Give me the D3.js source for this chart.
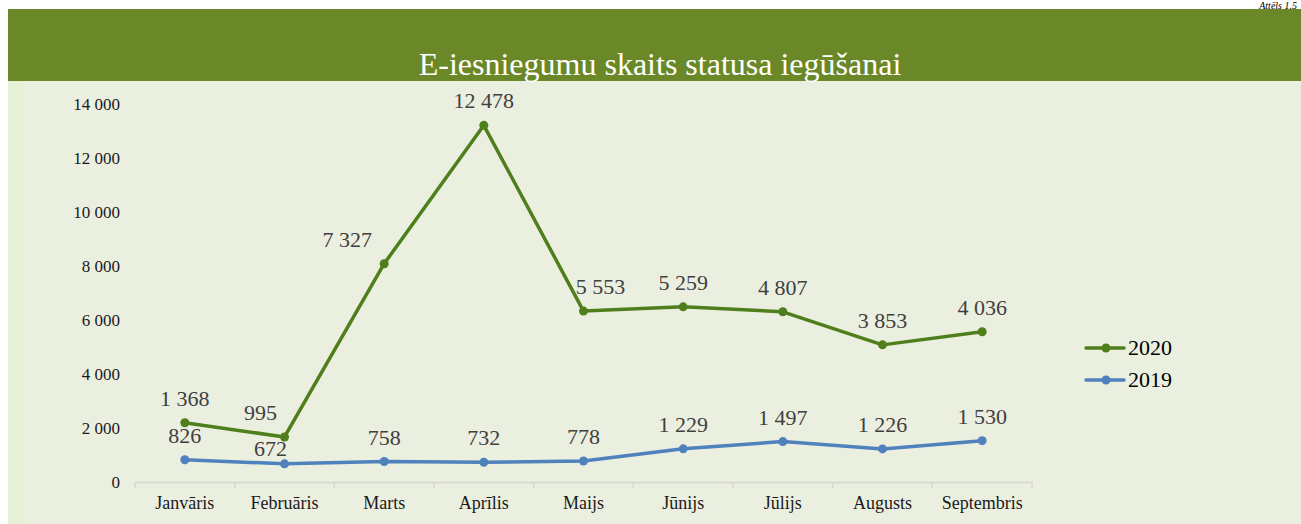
<!DOCTYPE html>
<html>
<head>
<meta charset="utf-8">
<script src="https://cdn.jsdelivr.net/npm/d3@7"></script>
<style>
  body { margin: 0; background: #fff; }
  text { font-family: "Liberation Serif", "Times New Roman", serif; }
</style>
</head>
<body>
<div id="chart"></div>
<script>
// data
var months = ["Janvāris", "Februāris", "Marts", "Aprīlis", "Maijs", "Jūnijs", "Jūlijs", "Augusts", "Septembris"];
var values2019 = [826, 672, 758, 732, 778, 1229, 1497, 1226, 1530];
var values2020 = [1368, 995, 7327, 12478, 5553, 5259, 4807, 3853, 4036];
var yTicks = [0, 2000, 4000, 6000, 8000, 10000, 12000, 14000];

// label nudges (Excel placed a few labels off-centre)
var shift2020 = { "Februāris": [-24, 0], "Marts": [-37, 0], "Maijs": [17, 0] };
var shift2019 = { "Februāris": [-14, 9] };

var width = 1301;
var height = 524;

var svg = d3.select("#chart")
  .append("svg")
  .attr("width", width)
  .attr("height", height);

// page furniture
svg.append("text")
  .attr("x", 1297)
  .attr("y", 9)
  .attr("text-anchor", "end")
  .style("font-style", "italic")
  .style("font-size", "10px")
  .text("Attēls 1.5");

svg.append("rect")
  .attr("x", 8).attr("y", 81)
  .attr("width", width - 8).attr("height", height - 81)
  .attr("fill", "#ebefdf");

svg.append("rect")
  .attr("x", 8).attr("y", 81)
  .attr("width", 15).attr("height", height - 81)
  .attr("fill", "#e5f0d7");

svg.append("rect")
  .attr("x", 8).attr("y", 9)
  .attr("width", width - 8).attr("height", 72)
  .attr("fill", "#6a8827");

svg.append("text")
  .attr("x", 660)
  .attr("y", 75)
  .attr("text-anchor", "middle")
  .attr("fill", "#ffffff")
  .style("font-size", "32px")
  .text("E-iesniegumu skaits statusa iegūšanai");

// scales
var xScale = d3.scaleBand()
  .domain(months)
  .range([135, 1032]);

var yScale = d3.scaleLinear()
  .domain([0, 14000])
  .range([482, 104]);

// stacked line: 2020 sits on top of 2019
var stacked2020 = values2020.map((v, i) => v + values2019[i]);

var fmt = d => d3.format(",")(d).replace(/,/g, " ");

var yAxis = d3.axisLeft(yScale)
  .tickValues(yTicks)
  .tickSize(0)
  .tickPadding(0)
  .tickFormat(fmt);

var yAxisG = svg.append("g")
  .attr("transform", "translate(120,0)")
  .call(yAxis);
yAxisG.select(".domain").remove();
yAxisG.selectAll("text")
  .style("font-family", "'Liberation Serif', serif")
  .style("font-size", "17px")
  .attr("fill", "#1a1a1a");

var xAxis = d3.axisBottom(xScale).tickSize(0).tickPadding(14);
var xAxisG = svg.append("g")
  .attr("transform", "translate(0,482)")
  .call(xAxis);
xAxisG.select(".domain").attr("stroke", "#d4d6d0").attr("stroke-width", 1.3);
xAxisG.selectAll("text")
  .style("font-family", "'Liberation Serif', serif")
  .style("font-size", "18px")
  .attr("fill", "#1a1a1a");

// boundary tick marks
var bounds = months.map(m => xScale(m)).concat([xScale.range()[1]]);
svg.append("g").selectAll("line")
  .data(bounds)
  .join("line")
  .attr("x1", d => d).attr("x2", d => d)
  .attr("y1", 482).attr("y2", 488)
  .attr("stroke", "#d4d6d0")
  .attr("stroke-width", 1.3);

var cx = m => xScale(m) + xScale.bandwidth() / 2;

function drawSeries(plotVals, labelVals, color, shift) {
  var line = d3.line()
    .x((d, i) => cx(months[i]))
    .y(d => yScale(d));

  svg.append("path")
    .datum(plotVals)
    .attr("d", line)
    .attr("fill", "none")
    .attr("stroke", color)
    .attr("stroke-width", 3.5)
    .attr("stroke-linejoin", "round");

  svg.append("g").selectAll("circle")
    .data(plotVals)
    .join("circle")
    .attr("cx", (d, i) => cx(months[i]))
    .attr("cy", d => yScale(d))
    .attr("r", 4.5)
    .attr("fill", color);

  svg.append("g").selectAll("text")
    .data(labelVals)
    .join("text")
    .attr("x", (d, i) => cx(months[i]) + (shift[months[i]] ? shift[months[i]][0] : 0))
    .attr("y", (d, i) => yScale(plotVals[i]) - 17 + (shift[months[i]] ? shift[months[i]][1] : 0))
    .attr("text-anchor", "middle")
    .attr("fill", "#404040")
    .style("font-size", "22px")
    .text(fmt);
}

drawSeries(stacked2020, values2020, "#4f7f1c", shift2020);
drawSeries(values2019, values2019, "#4f81bd", shift2019);

// legend
var legend = [["2020", "#4f7f1c"], ["2019", "#4f81bd"]];
var lg = svg.append("g").selectAll("g")
  .data(legend)
  .join("g")
  .attr("transform", (d, i) => `translate(1086, ${348 + i * 32})`);
lg.append("line")
  .attr("x1", 0).attr("x2", 38)
  .attr("y1", 0).attr("y2", 0)
  .attr("stroke", d => d[1])
  .attr("stroke-width", 3.5)
  .attr("stroke-linecap", "round");
lg.append("circle")
  .attr("cx", 20).attr("cy", 0).attr("r", 4.5)
  .attr("fill", d => d[1]);
lg.append("text")
  .attr("x", 42)
  .attr("y", 7)
  .attr("fill", "#000")
  .style("font-size", "22px")
  .text(d => d[0]);
</script>
</body>
</html>
